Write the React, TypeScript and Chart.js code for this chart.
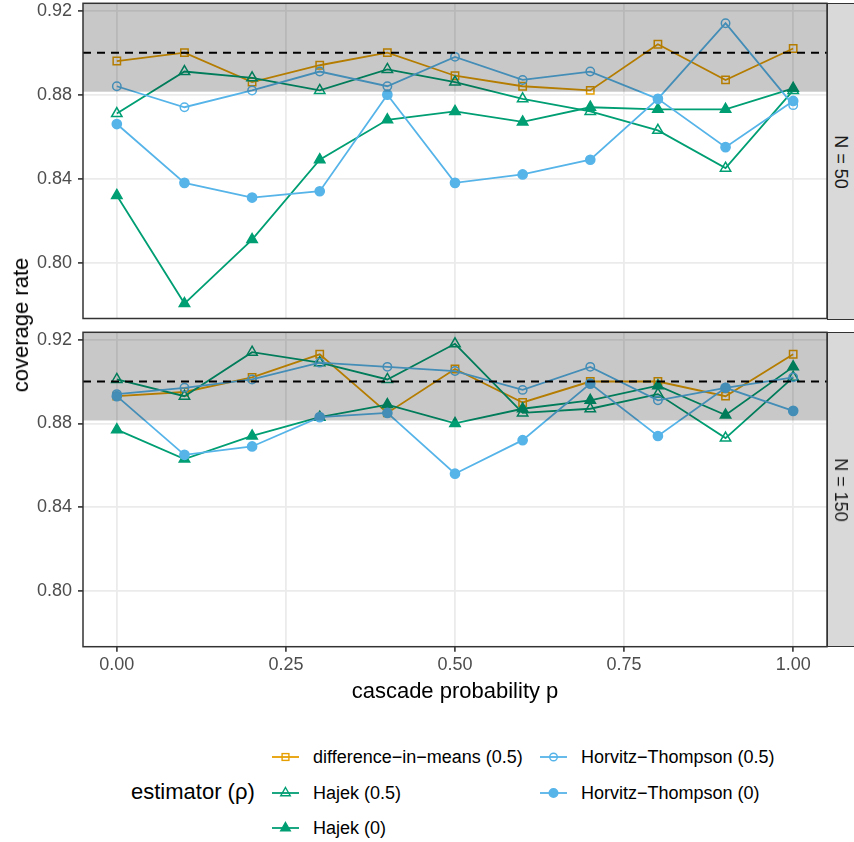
import React, { useEffect, useRef } from "react";
import { Chart, registerables } from "chart.js";
Chart.register(...registerables);

// ---------- data ----------
const pValues = [0, 0.1, 0.2, 0.3, 0.4, 0.5, 0.6, 0.7, 0.8, 0.9, 1.0];
const xTicks = [0, 0.25, 0.5, 0.75, 1.0];
const yTicks = [0.8, 0.84, 0.88, 0.92];
const nominalRate = 0.9;
const bandLower = 0.8814;
const panelLabels = ["N = 50", "N = 150"];
const seriesNames = [
  "difference\u2212in\u2212means (0.5)",
  "Hajek (0.5)",
  "Hajek (0)",
  "Horvitz\u2212Thompson (0.5)",
  "Horvitz\u2212Thompson (0)",
];

// N = 50
const dim50 = [0.896, 0.9, 0.886, 0.894, 0.9, 0.889, 0.884, 0.882, 0.904, 0.887, 0.902];
const hajekHalf50 = [0.871, 0.891, 0.888, 0.882, 0.892, 0.886, 0.878, 0.872, 0.863, 0.845, 0.882];
const hajekZero50 = [0.832, 0.7805, 0.811, 0.849, 0.868, 0.872, 0.867, 0.874, 0.873, 0.873, 0.883];
const htHalf50 = [0.884, 0.874, 0.882, 0.891, 0.884, 0.898, 0.887, 0.891, 0.878, 0.914, 0.875];
const htZero50 = [0.866, 0.838, 0.831, 0.834, 0.88, 0.838, 0.842, 0.849, 0.878, 0.855, 0.877];

// N = 150
const dim150 = [0.893, 0.895, 0.902, 0.913, 0.885, 0.906, 0.89, 0.9, 0.9, 0.893, 0.913];
const hajekHalf150 = [0.901, 0.893, 0.914, 0.909, 0.901, 0.918, 0.885, 0.887, 0.894, 0.873, 0.902];
const hajekZero150 = [0.877, 0.863, 0.874, 0.883, 0.889, 0.88, 0.887, 0.891, 0.898, 0.884, 0.907];
const htHalf150 = [0.894, 0.897, 0.901, 0.909, 0.907, 0.905, 0.896, 0.907, 0.891, 0.897, 0.902];
const htZero150 = [0.893, 0.865, 0.869, 0.883, 0.885, 0.856, 0.872, 0.899, 0.874, 0.897, 0.886];

const panel50 = [dim50, hajekHalf50, hajekZero50, htHalf50, htZero50];
const panel150 = [dim150, hajekHalf150, hajekZero150, htHalf150, htZero150];

// ---------- styles ----------
const FONT = "'Liberation Sans', Arial, Helvetica, sans-serif";
const ORANGE = "#E69F00";
const GREEN = "#009E73";
const BLUE = "#56B4E9";
const seriesColors = [ORANGE, GREEN, GREEN, BLUE, BLUE];
const seriesShapes = ["rect", "triangle", "triangle", "circle", "circle"];
const seriesFilled = [false, false, true, false, true];
const seriesRadius = [5.2, 6, 6, 4.2, 4.6];

const Y_MIN = 0.7734;
const Y_MAX = 0.9235;
const X_MIN = -0.05;
const X_MAX = 1.05;

const W = 854;
const PLOT_LEFT = 83;
const PLOT_RIGHT = 827;

const panelPlugin = {
  id: "panelDeco",
  afterDatasetsDraw(chart: any) {
    const { ctx, chartArea: a, scales } = chart;
    const y = scales.y;
    ctx.save();
    ctx.beginPath();
    ctx.rect(a.left, a.top, a.right - a.left, a.bottom - a.top);
    ctx.clip();
    const yb = y.getPixelForValue(bandLower);
    ctx.fillStyle = "rgba(0,0,0,0.215)";
    ctx.fillRect(a.left, a.top, a.right - a.left, yb - a.top);
    const yn = y.getPixelForValue(nominalRate);
    ctx.setLineDash([8, 6]);
    ctx.lineWidth = 2;
    ctx.strokeStyle = "#000";
    ctx.beginPath();
    ctx.moveTo(a.left, yn);
    ctx.lineTo(a.right, yn);
    ctx.stroke();
    ctx.restore();
    ctx.save();
    ctx.strokeStyle = "#333333";
    ctx.lineWidth = 1.5;
    ctx.strokeRect(a.left, a.top, a.right - a.left, a.bottom - a.top);
    ctx.restore();
  },
};

function makeConfig(series: number[][], showX: boolean, padding: any) {
  return {
    type: "line",
    data: {
      datasets: series.map((vals, i) => ({
        label: seriesNames[i],
        data: pValues.map((p, j) => ({ x: p, y: vals[j] })),
        borderColor: seriesColors[i],
        backgroundColor: seriesColors[i],
        pointBorderColor: seriesColors[i],
        pointBackgroundColor: seriesFilled[i] ? seriesColors[i] : "rgba(0,0,0,0)",
        pointStyle: seriesShapes[i],
        pointRadius: seriesRadius[i],
        pointBorderWidth: 1.5,
        borderWidth: 1.8,
        fill: false,
        tension: 0,
        order: 4 - i,
      })),
    },
    options: {
      animation: false,
      responsive: false,
      events: [],
      layout: { padding },
      plugins: { legend: { display: false }, tooltip: { enabled: false } },
      scales: {
        x: {
          type: "linear",
          min: X_MIN,
          max: X_MAX,
          afterBuildTicks: (s: any) => {
            s.ticks = xTicks.map((v) => ({ value: v }));
          },
          grid: {
            color: "#EBEBEB",
            lineWidth: 1.8,
            drawTicks: showX,
            tickLength: 5,
            tickColor: "#333333",
            tickWidth: 1.6,
          },
          border: { display: false },
          ticks: {
            display: showX,
            padding: 3,
            color: "#4D4D4D",
            font: { family: FONT, size: 18 },
            maxRotation: 0,
            autoSkip: false,
            callback: (v: any) => Number(v).toFixed(2),
          },
          afterFit: (s: any) => {
            s.height = showX ? 30 : 0;
            s.paddingLeft = 0;
            s.paddingRight = 0;
          },
        },
        y: {
          type: "linear",
          min: Y_MIN,
          max: Y_MAX,
          afterBuildTicks: (s: any) => {
            s.ticks = yTicks.map((v) => ({ value: v }));
          },
          grid: {
            color: "#EBEBEB",
            lineWidth: 1.8,
            drawTicks: true,
            tickLength: 5,
            tickColor: "#333333",
            tickWidth: 1.6,
          },
          border: { display: false },
          ticks: {
            padding: 6,
            color: "#4D4D4D",
            font: { family: FONT, size: 18 },
            autoSkip: false,
            callback: (v: any) => Number(v).toFixed(2),
          },
          afterFit: (s: any) => {
            s.width = PLOT_LEFT;
            s.paddingTop = 0;
            s.paddingBottom = 0;
          },
        },
      },
    },
    plugins: [panelPlugin],
  };
}

function LegendKey({ i }: { i: number }) {
  const c = seriesColors[i];
  const shape = seriesShapes[i];
  const filled = seriesFilled[i];
  let marker: any = null;
  if (shape === "rect") {
    marker = <rect x={13.5 - 3.4} y={8 - 3.4} width={6.8} height={6.8} fill="none" stroke={c} strokeWidth={1.4} />;
  } else if (shape === "triangle") {
    const r = 5.5;
    const pts = `${13.5},${8 - r} ${13.5 + r * 0.866},${8 + r / 2} ${13.5 - r * 0.866},${8 + r / 2}`;
    marker = <polygon points={pts} fill={filled ? c : "none"} stroke={c} strokeWidth={1.4} />;
  } else {
    marker = <circle cx={13.5} cy={8} r={filled ? 4.3 : 3.8} fill={filled ? c : "none"} stroke={c} strokeWidth={1.4} />;
  }
  return (
    <svg width={27} height={16} style={{ display: "block" }}>
      <line x1={0} y1={8} x2={27} y2={8} stroke={c} strokeWidth={1.8} />
      {marker}
    </svg>
  );
}

const TOP_CANVAS_Y = -20;
const TOP_CANVAS_H = 346;
const BOT_CANVAS_Y = 306;
const BOT_CANVAS_H = 394;

export default function App() {
  const topRef = useRef<HTMLCanvasElement | null>(null);
  const botRef = useRef<HTMLCanvasElement | null>(null);

  useEffect(() => {
    // top panel area: y 3.3 .. 320 ; bottom panel: 332.3 .. 646.7
    const c1 = new Chart(
      topRef.current as HTMLCanvasElement,
      makeConfig(panel50, false, {
        top: 3.3 - TOP_CANVAS_Y,
        bottom: TOP_CANVAS_Y + TOP_CANVAS_H - 320,
        left: 0,
        right: W - PLOT_RIGHT,
      }) as any
    );
    const c2 = new Chart(
      botRef.current as HTMLCanvasElement,
      makeConfig(panel150, true, {
        top: 332.3 - BOT_CANVAS_Y,
        bottom: BOT_CANVAS_Y + BOT_CANVAS_H - 646.7 - 30,
        left: 0,
        right: W - PLOT_RIGHT,
      }) as any
    );
    return () => {
      c1.destroy();
      c2.destroy();
    };
  }, []);

  const legendPos = [
    { col: 0, row: 0 },
    { col: 0, row: 1 },
    { col: 0, row: 2 },
    { col: 1, row: 0 },
    { col: 1, row: 1 },
  ];
  const colKeyX = [272, 540];
  const rowY = [757, 793, 828];

  const stripStyle = (top: number, height: number): any => ({
    position: "absolute",
    left: PLOT_RIGHT,
    top,
    width: 40,
    height,
    background: "#D9D9D9",
    border: "1.5px solid #333333",
    boxSizing: "border-box",
  });

  return (
    <div style={{ position: "absolute", left: 0, top: 0, width: W, height: 842, background: "#fff", overflow: "hidden", fontFamily: FONT }}>
      <canvas ref={topRef} width={W} height={TOP_CANVAS_H} style={{ position: "absolute", left: 0, top: TOP_CANVAS_Y }} />
      <canvas ref={botRef} width={W} height={BOT_CANVAS_H} style={{ position: "absolute", left: 0, top: BOT_CANVAS_Y }} />

      {/* strips */}
      <div style={stripStyle(3.3, 317)} />
      <div style={stripStyle(332.3, 315)} />
      {[161.5, 489.5].map((cy, k) => (
        <div
          key={k}
          style={{
            position: "absolute",
            left: 841,
            top: cy,
            transform: "translate(-50%, -50%) rotate(90deg)",
            fontSize: 18,
            color: "#1A1A1A",
            whiteSpace: "nowrap",
            lineHeight: "20px",
          }}
        >
          {panelLabels[k]}
        </div>
      ))}

      {/* axis titles */}
      <div
        style={{
          position: "absolute",
          left: 21,
          top: 325,
          transform: "translate(-50%, -50%) rotate(-90deg)",
          fontSize: 22,
          color: "#000",
          whiteSpace: "nowrap",
          lineHeight: "24px",
        }}
      >
        coverage rate
      </div>
      <div
        style={{
          position: "absolute",
          left: (PLOT_LEFT + PLOT_RIGHT) / 2,
          top: 691,
          transform: "translate(-50%, -50%)",
          fontSize: 22,
          color: "#000",
          whiteSpace: "nowrap",
          lineHeight: "24px",
        }}
      >
        cascade probability p
      </div>

      {/* legend */}
      <div
        style={{
          position: "absolute",
          left: 131,
          top: 792,
          transform: "translateY(-50%)",
          fontSize: 22,
          color: "#000",
          whiteSpace: "nowrap",
          lineHeight: "24px",
        }}
      >
        estimator (ρ)
      </div>
      {legendPos.map((pos, i) => (
        <div
          key={i}
          style={{
            position: "absolute",
            left: colKeyX[pos.col],
            top: rowY[pos.row],
            transform: "translateY(-50%)",
            display: "flex",
            alignItems: "center",
            whiteSpace: "nowrap",
          }}
        >
          <LegendKey i={i} />
          <span style={{ marginLeft: 14, fontSize: 18, color: "#000", lineHeight: "20px" }}>{seriesNames[i]}</span>
        </div>
      ))}
    </div>
  );
}
